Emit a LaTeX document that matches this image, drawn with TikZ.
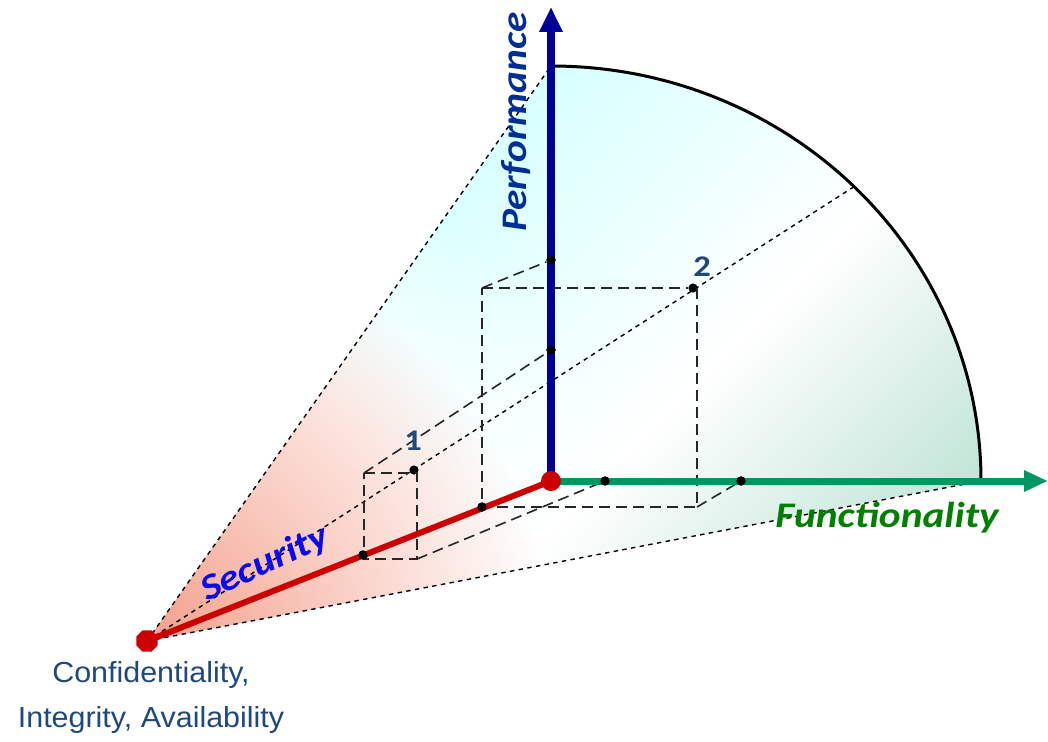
\documentclass[tikz,border=0pt]{standalone}
\usepackage{fontspec}
\usepackage{xcolor}
\usepackage{tikz}
\usetikzlibrary{arrows.meta,shapes.geometric,fadings}

\newfontfamily\axisfont[FakeStretch=1.15]{Carlito}
\newfontfamily\ciafont[FakeStretch=1.05]{Liberation Sans}

\definecolor{perfblue}{RGB}{0,0,150}
\definecolor{funcgreen}{RGB}{0,150,100}
\definecolor{secred}{RGB}{204,0,0}
\definecolor{perftext}{RGB}{0,45,150}
\definecolor{functext}{RGB}{0,128,0}
\definecolor{sectext}{RGB}{10,10,240}
\definecolor{ciatext}{RGB}{31,73,125}
\definecolor{fancyan}{RGB}{186,255,255}
\definecolor{fanteal}{RGB}{125,200,172}
\definecolor{fanred}{RGB}{245,160,140}

\pgfdeclareradialshading{plateau}{\pgfpointorigin}{color(0bp)=(white); color(14bp)=(white); color(25bp)=(black); color(50bp)=(black)}
\tikzfading[name=whitefade, shading=plateau]
\tikzfading[name=redfade, inner color=transparent!0, outer color=transparent!100]

\begin{document}
\begin{tikzpicture}[
  x=0.5pt, y=0.5pt,
  % Line styles
  axis/.style={line width=#1, line cap=butt},
  arcline/.style={draw=black, line width=1.5pt},
  guide/.style={draw=black, line width=0.7pt, dash pattern=on 2.2pt off 2.2pt},
  boxline/.style={draw=black!85, line width=0.8pt, dash pattern=on 5.5pt off 3pt},
  % Node styles
  dot/.style={circle, fill=black, inner sep=0pt, minimum size=4.6pt},
  origin/.style={circle, fill=secred, inner sep=0pt, minimum size=10pt},
  apex/.style={regular polygon, regular polygon sides=8, fill=secred, inner sep=0pt, minimum size=11.5pt},
  axislabel/.style={font=\axisfont\bfseries\itshape\fontsize{18}{21}\selectfont, inner sep=0pt},
  numlabel/.style={font=\axisfont\bfseries\fontsize{15}{17}\selectfont, text=ciatext, inner sep=0pt}
]
  \useasboundingbox (0,0) rectangle (1048,741);

  % Main points
  \coordinate (O) at (551,260);
  \coordinate (S) at (147,100);
  \coordinate (Ptip) at (551,734);
  \coordinate (Ftip) at (1048,260);
  \coordinate (Ptop) at (551,675);
  \coordinate (Fend) at (981,260);
  \coordinate (Rim) at (855,555);

  % Box corners
  \coordinate (b1tl) at (364,268);
  \coordinate (b1tr) at (417,268);
  \coordinate (b1br) at (417,182);
  \coordinate (b1bl) at (364,182);
  \coordinate (b2tl) at (482,453);
  \coordinate (b2tr) at (697,453);
  \coordinate (b2br) at (697,234);
  \coordinate (b2bl) at (482,234);

  % Shaded cone
  \begin{scope}
    \clip (S) -- (Ptop) arc[start angle=90, end angle=0, x radius=430, y radius=415] -- cycle;
    \shade[top color=fancyan, bottom color=fanteal, middle color=white, shading angle=45]
      (130,-209) rectangle (1250,911);
    \fill[white, path fading=whitefade] (S) circle (520);
    \fill[fanred, path fading=redfade] (S) circle (400);
  \end{scope}
  \draw[arcline] (Ptop) arc[start angle=90, end angle=0, x radius=430, y radius=415];

  % Dots
  \node[dot] (pp1) at (551,391) {};
  \node[dot] (pp2) at (551,481) {};
  \node[dot] (ff1) at (605,260) {};
  \node[dot] (ff2) at (741,260) {};
  \node[dot] (ss1) at (363,186) {};
  \node[dot] (ss2) at (482,234) {};
  \node[dot] (pt1) at (414,271) {};
  \node[dot] (pt2) at (693,453) {};

  % Guide lines from the apex
  \draw[guide] (S) -- (Ptop);
  \draw[guide] (S) -- (Fend);
  \draw[guide] (S) -- (Rim);

  % Box 1
  \draw[boxline] (b1tl) -- (b1tr) -- (b1br) -- (b1bl) -- cycle;
  \draw[boxline] (b1tl) -- (pp1);
  \draw[boxline] (b1br) -- (ff1);

  % Box 2
  \draw[boxline] (b2tl) -- (pt2);
  \draw[boxline] (b2tr) -- (b2br) -- (b2bl) -- (b2tl);
  \draw[boxline] (b2tl) -- (pp2);
  \draw[boxline] (b2br) -- (ff2);

  % Axes
  \draw[axis=3pt, secred] (O) -- (S);
  \draw[axis=3.5pt, funcgreen, -{Triangle[length=12pt, width=10pt]}] (O) -- (Ftip);
  \draw[axis=4pt, perfblue, -{Triangle[length=12.5pt, width=11pt]}] (O) -- (Ptip);

  % Redraw dots on the axes
  \node[dot] at (pp1) {};
  \node[dot] at (pp2) {};
  \node[dot] at (ff1) {};
  \node[dot] at (ff2) {};
  \node[dot] at (ss1) {};
  \node[dot] at (ss2) {};
  \node[origin] (orig) at (O) {};
  \node[apex] (cia) at (S) {};

  % Labels
  \node[axislabel, text=perftext, rotate=90] (perf) at (516,619) {Performance};
  \node[axislabel, text=functext] (func) at (887,223) {Functionality};
  \node[axislabel, text=sectext, rotate=25] (sec) at (265,177) {Security};
  \node[numlabel] (one) at (413,300) {1};
  \node[numlabel] (two) at (702,474) {2};
  \node[font=\ciafont\fontsize{14.5}{22.5}\selectfont, text=ciatext, align=center, inner sep=0pt]
    (ciatxt) at (151,44) {Confidentiality,\\Integrity, Availability};

\end{tikzpicture}
\end{document}
